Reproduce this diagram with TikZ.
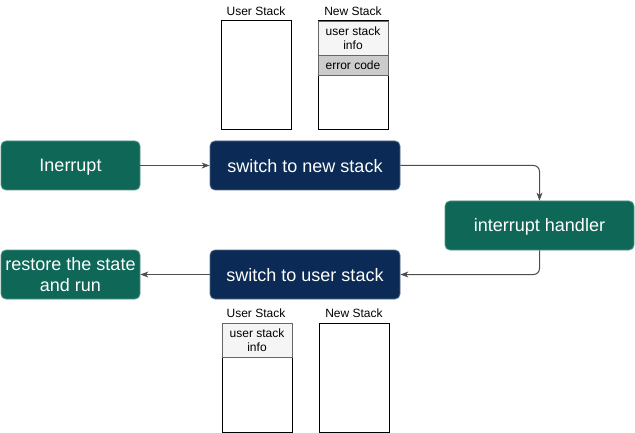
\documentclass[tikz,border=0pt]{standalone}
\usepackage{fontspec}
\setmainfont{Liberation Sans}
\usepackage{tikz}
\usetikzlibrary{arrows.meta}
\definecolor{boxgreen}{HTML}{0E6757}
\definecolor{boxblue}{HTML}{0B2B56}
\definecolor{linegray}{HTML}{4D4D4D}
\tikzstyle{greenbox} = [draw=boxgreen!70!white, fill=boxgreen, text=white, rectangle, rounded corners=5pt, minimum width=139pt, minimum height=49pt, inner sep=2pt, align=center, text height=15pt, font=\fontsize{18}{21}\selectfont, line width=0.8pt]
\tikzstyle{bluebox} = [greenbox, draw=boxblue!70!white, fill=boxblue, minimum width=190pt]
\tikzstyle{stackbox} = [draw=black, fill=white, rectangle, minimum width=70pt, minimum height=109pt, anchor=north west, outer sep=0pt, line width=1pt]
\tikzstyle{cellbox} = [draw=gray!80!black, rectangle, minimum width=70pt, anchor=north west, outer sep=0pt, inner sep=0pt, align=center, font=\fontsize{12}{14}\selectfont, line width=0.8pt]
\tikzstyle{stacklabel} = [font=\fontsize{12}{14}\selectfont, inner sep=0pt]
\tikzstyle{flow} = [draw=linegray, line width=1pt, -{Stealth[length=8pt,width=6pt,inset=2.5pt]}]

\begin{document}
\begin{tikzpicture}[x=1pt, y=-1pt]
\useasboundingbox (0,0) rectangle (635,433);

% top stacks
\node[stacklabel] (ulabeltop) at (256,11) {User Stack};
\node[stacklabel] (nlabeltop) at (353,11) {New Stack};
\node[stackbox] (ustacktop) at (221,21) {};
\node[stackbox] (nstacktop) at (318,21) {};
\node[cellbox, fill=gray!8, minimum height=34pt] (infotop) at (318,21) {user stack\\info};
\node[cellbox, fill=gray!40, minimum height=20pt] (errcode) at (infotop.south west) {error code};

% main flow
\node[greenbox] (interrupt) at (70.5,165.5) {Inerrupt};
\node[bluebox] (tonew) at (305,165.5) {switch to new stack};
\node[greenbox, minimum width=189pt] (handler) at (539.5,225.5) {interrupt handler};
\node[bluebox] (touser) at (305,274.5) {switch to user stack};
\node[greenbox, text height=] (restore) at (70.5,274.5) {restore the state\\and run};

\draw[flow] (interrupt.east) -- (tonew.west);
\draw[flow, rounded corners=6pt] (tonew.east) -| (handler.north);
\draw[flow, rounded corners=6pt] (handler.south) |- (touser.east);
\draw[flow] (touser.west) -- (restore.east);

% bottom stacks
\node[stacklabel] (ulabelbot) at (256,313) {User Stack};
\node[stacklabel] (nlabelbot) at (354,313) {New Stack};
\node[stackbox] (ustackbot) at (222,323) {};
\node[stackbox] (nstackbot) at (319,323) {};
\node[cellbox, fill=gray!8, minimum height=34pt] (infobot) at (222,323) {user stack\\info};
\end{tikzpicture}
\end{document}
